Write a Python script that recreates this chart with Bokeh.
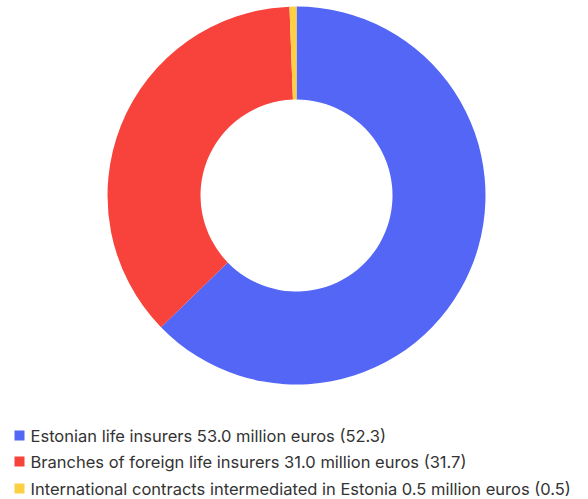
import numpy as np
from bokeh.plotting import figure
from bokeh.models import Range1d
from bokeh.core.properties import value
from bokeh.embed import file_html
from bokeh.resources import INLINE

labels = [
    "Estonian life insurers 53.0 million euros (52.3)",
    "Branches of foreign life insurers 31.0 million euros (31.7)",
    "International contracts intermediated in Estonia 0.5 million euros (0.5)",
]
values = [53.0, 31.0, 0.5]
colors = ["#5366F6", "#F7433C", "#FDD043"]

W, H = 588, 499
p = figure(width=W, height=H, output_backend="svg", toolbar_location=None,
           x_range=Range1d(0, W), y_range=Range1d(0, H),
           min_border=0, outline_line_color=None)
p.axis.visible = False
p.grid.visible = False
p.background_fill_color = "white"
p.border_fill_color = "white"

vals = np.array(values)
frac = vals / vals.sum()
cum = np.concatenate([[0], np.cumsum(frac)])
start = np.pi / 2 - 2 * np.pi * cum[:-1]
end = np.pi / 2 - 2 * np.pi * cum[1:]

cx, cy = 296, H - 195
p.annular_wedge(x=cx, y=cy, inner_radius=96, outer_radius=189,
                start_angle=start, end_angle=end, direction="clock",
                color=colors, line_color=None)

rows_y = [H - 435, H - 461, H - 488]
p.rect(x=19, y=rows_y, width=10, height=10, color=colors, line_color=None)
p.text(x=30, y=rows_y, text=labels, text_font=value("Inter"),
       text_font_size="16.5px", text_color="#333333", text_baseline="middle")

open("out.html", "w").write(file_html(p, INLINE))
